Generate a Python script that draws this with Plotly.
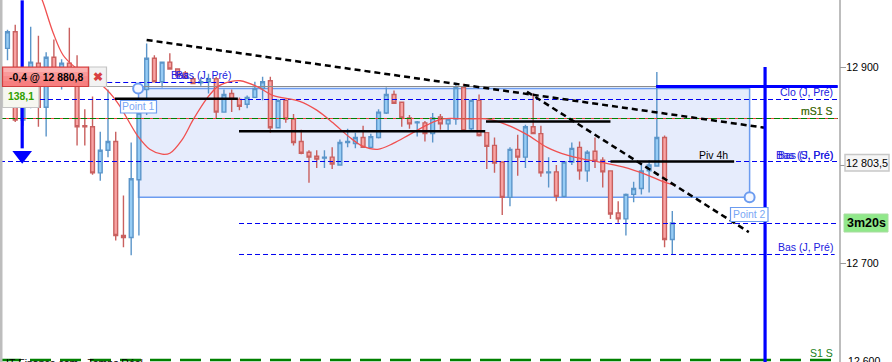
import plotly.graph_objects as go

# Candles
opens = [12919,12936,12846,12877,12904,12859,12910,12892,12904,12892,12840,12839,12792,12815,12824,12728,12726,12785,12877,12909,
         12885,12905,12898,12894,12888,12884,12885,12888,12854,12873,12867,12862,12869,12878,12886,12838,12866,12847,12824,12813,
         12809,12807,12808,12800,12823,12822,12828,12818,12828,12853,12872,12864,12848,12843,12843,12832,12849,12842,12847,12879,
         12837,12866,12833,12820,12803,12767,12816,12808,12839,12832,12792,12793,12768,12803,12818,12794,12814,12805,12794,12751,
         12745,12770,12776,12794,12799,12828,12724]
closes = [12936,12846,12877,12905,12859,12910,12892,12904,12889,12839,12839,12792,12815,12824,12728,12726,12786,12853,12909,12885,
          12905,12898,12891,12889,12883,12885,12888,12854,12872,12867,12860,12869,12878,12885,12838,12866,12847,12823,12812,12808,
          12806,12808,12801,12823,12824,12828,12818,12829,12854,12872,12863,12848,12842,12844,12832,12848,12842,12847,12879,12835,
          12866,12830,12819,12802,12767,12816,12808,12839,12832,12792,12793,12768,12803,12817,12794,12813,12804,12793,12750,12745,
          12770,12776,12794,12800,12828,12724,12741]
highs = [12938,12943,12880,12941,12932,12915,12928,12908,12940,12912,12857,12870,12834,12877,12834,12769,12823,12860,12924,12912,
         12905,12914,12898,12896,12890,12889,12893,12890,12877,12877,12869,12871,12885,12890,12890,12867,12867,12852,12836,12815,
         12815,12815,12818,12826,12837,12833,12840,12832,12857,12879,12876,12864,12851,12845,12845,12853,12852,12848,12884,12883,
         12867,12872,12833,12828,12803,12818,12831,12841,12873,12840,12808,12800,12803,12823,12824,12815,12828,12808,12794,12763,
         12771,12783,12802,12805,12895,12830,12753]
lows = [12907,12844,12840,12858,12839,12829,12880,12877,12880,12820,12820,12790,12784,12808,12723,12716,12708,12728,12851,12885,
        12879,12898,12891,12888,12883,12881,12873,12847,12854,12854,12856,12858,12869,12866,12833,12838,12843,12820,12811,12782,
        12797,12797,12796,12800,12818,12817,12818,12817,12827,12852,12863,12839,12837,12829,12824,12823,12836,12835,12841,12835,
        12835,12829,12796,12792,12749,12758,12789,12797,12832,12788,12777,12763,12767,12800,12785,12783,12797,12777,12745,12741,
        12728,12762,12770,12772,12799,12716,12709]

# Moving average curve
ma_x = [3.9,4.5,5.9,7.2,8.7,10.5,12.4,14.2,16.9,18.4,20,21,22.6,24,25.8,27.2,28.8,30.1,32.3,34.3,37.8,40,42.1,44.3,46,47.9,
        49.9,52,54.3,56.3,59.4,62,64.6,67.2,69.8,72.4,74.5,76.6,79.6,82.7,84.8,86.1]
ma_y = [12978,12968,12935,12912,12900,12890,12880,12864,12829,12816,12811,12812,12826,12846,12868,12880,12885,12886,12880,12871,
        12865,12856,12843,12828,12819,12816,12822,12831,12841,12847,12847,12847,12841,12831,12818,12810,12806,12803,12798,12790,12783,12780]

# Levels
LEFT, RIGHT = -0.97, 114.42
AXIS_END = 107.4
level_close = 12880.1
level_clo = 12866.84
level_s1m = 12847.46
level_bas_s = 12803.58
level_now = 12740.32
level_bas_j = 12708.7
level_s1 = 12601
level_bas_old = 12884.2

# Pivots: (x0, x1, price)
pivot_x0 = [13.9, 29.95, 61.9, 78]
pivot_x1 = [29.8, 61.8, 78, 94]
pivot_y = [12867.7, 12834.5, 12844.5, 12803.58]

# Trend lines
trend_a_x, trend_a_y = [18, 98], [12927.6, 12838]
trend_b_x, trend_b_y = [67.2, 95.9], [12874.8, 12731.5]

# Drawing box corners
box_x = [16.95, 96]
box_y = [12767, 12878]

tick_vals = [12900, 12800, 12700]
tick_text = ["12 900", "", "12 700"]

FONT = "Liberation Sans"
W, H = 892, 362
BLUE = "#0000f0"


def line(x, y, color, width, dash="solid", shape="linear"):
    return go.Scatter(x=x, y=y, mode="lines", hoverinfo="skip", showlegend=False,
                      line=dict(color=color, width=width, dash=dash, shape=shape))


fig = go.Figure()
fig.add_trace(go.Candlestick(
    x=list(range(len(opens))), open=opens, high=highs, low=lows, close=closes, showlegend=False,
    whiskerwidth=0,
    increasing=dict(line=dict(color="#5b95c9", width=1.4), fillcolor="#96ccf5"),
    decreasing=dict(line=dict(color="#c9605f", width=1.4), fillcolor="#f9a3a3"),
))

# Levels
fig.add_trace(line([LEFT, AXIS_END], [level_close] * 2, "#8c8c8c", 1.2))
fig.add_trace(line([83.9, AXIS_END], [level_close] * 2, "#0000ff", 3))
fig.add_trace(line([12.9, 29.8], [level_bas_old] * 2, BLUE, 1, "5px,3px"))
fig.add_trace(line([LEFT, AXIS_END], [level_clo] * 2, BLUE, 1, "5px,3px"))
fig.add_trace(line([LEFT, AXIS_END], [level_s1m] * 2, "#f04040", 1))
fig.add_trace(line([LEFT, AXIS_END], [level_s1m] * 2, "#008000", 1.2, "6px,3px"))
fig.add_trace(line([LEFT, AXIS_END], [level_bas_s] * 2, BLUE, 1, "5px,3px"))
fig.add_trace(line([29.95, AXIS_END], [level_now] * 2, BLUE, 1, "5px,3px"))
fig.add_trace(line([29.95, 107], [level_bas_j] * 2, BLUE, 1, "5px,3px"))
fig.add_trace(line([LEFT, 106.8], [level_s1] * 2, "#008000", 2.5, "21px,9px"))

# Moving average
fig.add_trace(line(ma_x, ma_y, "#f05050", 1.3, shape="spline"))

# Pivots
for x0, x1, p in zip(pivot_x0, pivot_x1, pivot_y):
    fig.add_trace(line([x0, x1], [p, p], "#000000", 2.5))

# Trend lines
fig.add_trace(line(trend_a_x, trend_a_y, "#000000", 2.5, "6px,4px"))
fig.add_trace(line(trend_b_x, trend_b_y, "#000000", 2.5, "6px,4px"))

# Vertical + arrow
fig.add_trace(line([98, 98], [12599, 12900], "#0000ff", 3.2))
fig.add_trace(line([1.9, 1.9], [12968, 12817], "#0000ff", 3.2))
fig.add_trace(go.Scatter(x=[1.9], y=[12810], mode="markers", hoverinfo="skip", showlegend=False,
                         marker=dict(symbol="triangle-down", size=17, color="#0000ff", line=dict(width=0))))

# Drawing handles
fig.add_trace(go.Scatter(x=[16.9, 96], y=[12878, 12767], mode="markers", hoverinfo="skip", showlegend=False,
                         marker=dict(symbol="circle", size=10, color="#f4f7ff", line=dict(color="#6c9cf0", width=2))))


def P(px, py, text, color="#000000", size=10.5, anchor="left", **kw):
    return dict(xref="paper", yref="paper", x=px / W, y=1 - py / H, text=text, showarrow=False,
                xanchor=anchor, yanchor="middle", align="left",
                font=dict(family=FONT, size=size, color=color), borderpad=0, **kw)


def rect(x0, y0, x1, y1, fill, border, w=1):
    return dict(type="rect", xref="paper", yref="paper", x0=x0 / W, x1=x1 / W, y0=1 - y0 / H, y1=1 - y1 / H,
                fillcolor=fill, line=dict(color=border, width=w))


shapes = [
    dict(type="rect", xref="x", yref="y", x0=box_x[0], x1=box_x[1], y0=box_y[0], y1=box_y[1],
         fillcolor="#e6ecfc", line=dict(color="#6c9cf0", width=1.5), layer="below"),
    rect(0, 0, 2.5, H, "#bdbdbd", "#bdbdbd", 0),
    rect(89, 67, 106.5, 86.5, "#f2f2f2", "#c4c4c4", 1.2),
    rect(2.5, 86.5, 39, 107.5, "#f6f7f0", "#c4c4c4", 1.2),
    rect(2.5, 67, 88.5, 86.5, "#f77f7f", "#d03e3e", 1.2),
    rect(3.5, 68, 87.5, 72, "#fbb0b0", "#fbb0b0", 0),
    rect(3.5, 72, 87.5, 76, "#f99a9a", "#f99a9a", 0),
    rect(3.5, 76, 87.5, 81, "#f88c8c", "#f88c8c", 0),
    rect(120.5, 100.5, 156.5, 113, "#ffffff", "#6c9cf0", 1.2),
    rect(730.5, 207.5, 768, 221.5, "#ffffff", "#6c9cf0", 1.2),
    rect(845, 154.5, 889, 171, "#f6f6f6", "#c8c8c8", 1.5),
    rect(844, 214, 888, 232, "#90e88a", "#a8dca0", 1),
]

annotations = [
    P(8, 77.5, "<b>-0,4 @ 12 880,8</b>", size=10.4),
    P(97.5, 77, "<b>✖</b>", color="#d84040", size=12, anchor="center"),
    P(20.5, 97, "<b>138,1</b>", color="#30a000", size=10.4, anchor="center"),
    P(138.5, 106.5, "Point 1", color="#7aa7f5", size=10.4, anchor="center"),
    P(749.5, 214.5, "Point 2", color="#7aa7f5", size=10.4, anchor="center"),
    P(232, 75, "Bas (J, Pré)", color="#2020e0"),
    P(190, 75, "Bas", color="#2020e0", anchor="right"),
    P(834, 92, "Clo (J, Pré)", color="#2020e0", anchor="right"),
    P(834, 111, "mS1 S", color="#e05030", anchor="right"),
    P(834, 111, "mS1 S", color="#208020", anchor="right"),
    P(834, 154.5, "Bas (S, Pré)", color="#2020e0", anchor="right"),
    P(834, 154.5, "Bas (J, Pré)", color="#2020e0", anchor="right"),
    P(729, 155, "Piv 4h", color="#000000", anchor="right"),
    P(834, 247.5, "Bas (J, Pré)", color="#2020e0", anchor="right"),
    P(834, 353, "S1 S", color="#208020", anchor="right"),
    P(867, 163, "12 803,5", size=10.8, anchor="center"),
    P(866, 223, "<b>3m20s</b>", size=12.5, anchor="center"),
    P(847, 361, "12 600", size=10.6),
    P(5, 363, "IT-Finance.com - Temps Réel", size=10.5),
]
# the "Bas (J, Pré)" near the start of the chart is right-aligned at its end
annotations[5]["xanchor"] = "right"

fig.update_layout(
    width=W, height=H, margin=dict(l=0, r=0, t=0, b=0, pad=0),
    paper_bgcolor="#ffffff", plot_bgcolor="#ffffff", showlegend=False, dragmode=False,
    shapes=shapes, annotations=annotations,
    xaxis=dict(range=[LEFT, RIGHT], visible=False, fixedrange=True, rangeslider=dict(visible=False)),
    yaxis=dict(range=[12599.0, 12968.37], side="right", anchor="free", position=839.5 / W, fixedrange=True,
               showgrid=False, zeroline=False, showline=True, linecolor="#bdbdbd", linewidth=1.5,
               ticks="outside", ticklen=6, tickcolor="#9a9a9a", tickwidth=1, ticklabelstandoff=-2,
               tickmode="array", tickvals=tick_vals, ticktext=tick_text,
               tickfont=dict(family=FONT, size=10.6, color="#000000")),
)

fig.write_html("out.html", config={"displayModeBar": False},
               post_script="document.body.style.margin='0';document.body.style.overflow='hidden';window.dispatchEvent(new Event('resize'));")
